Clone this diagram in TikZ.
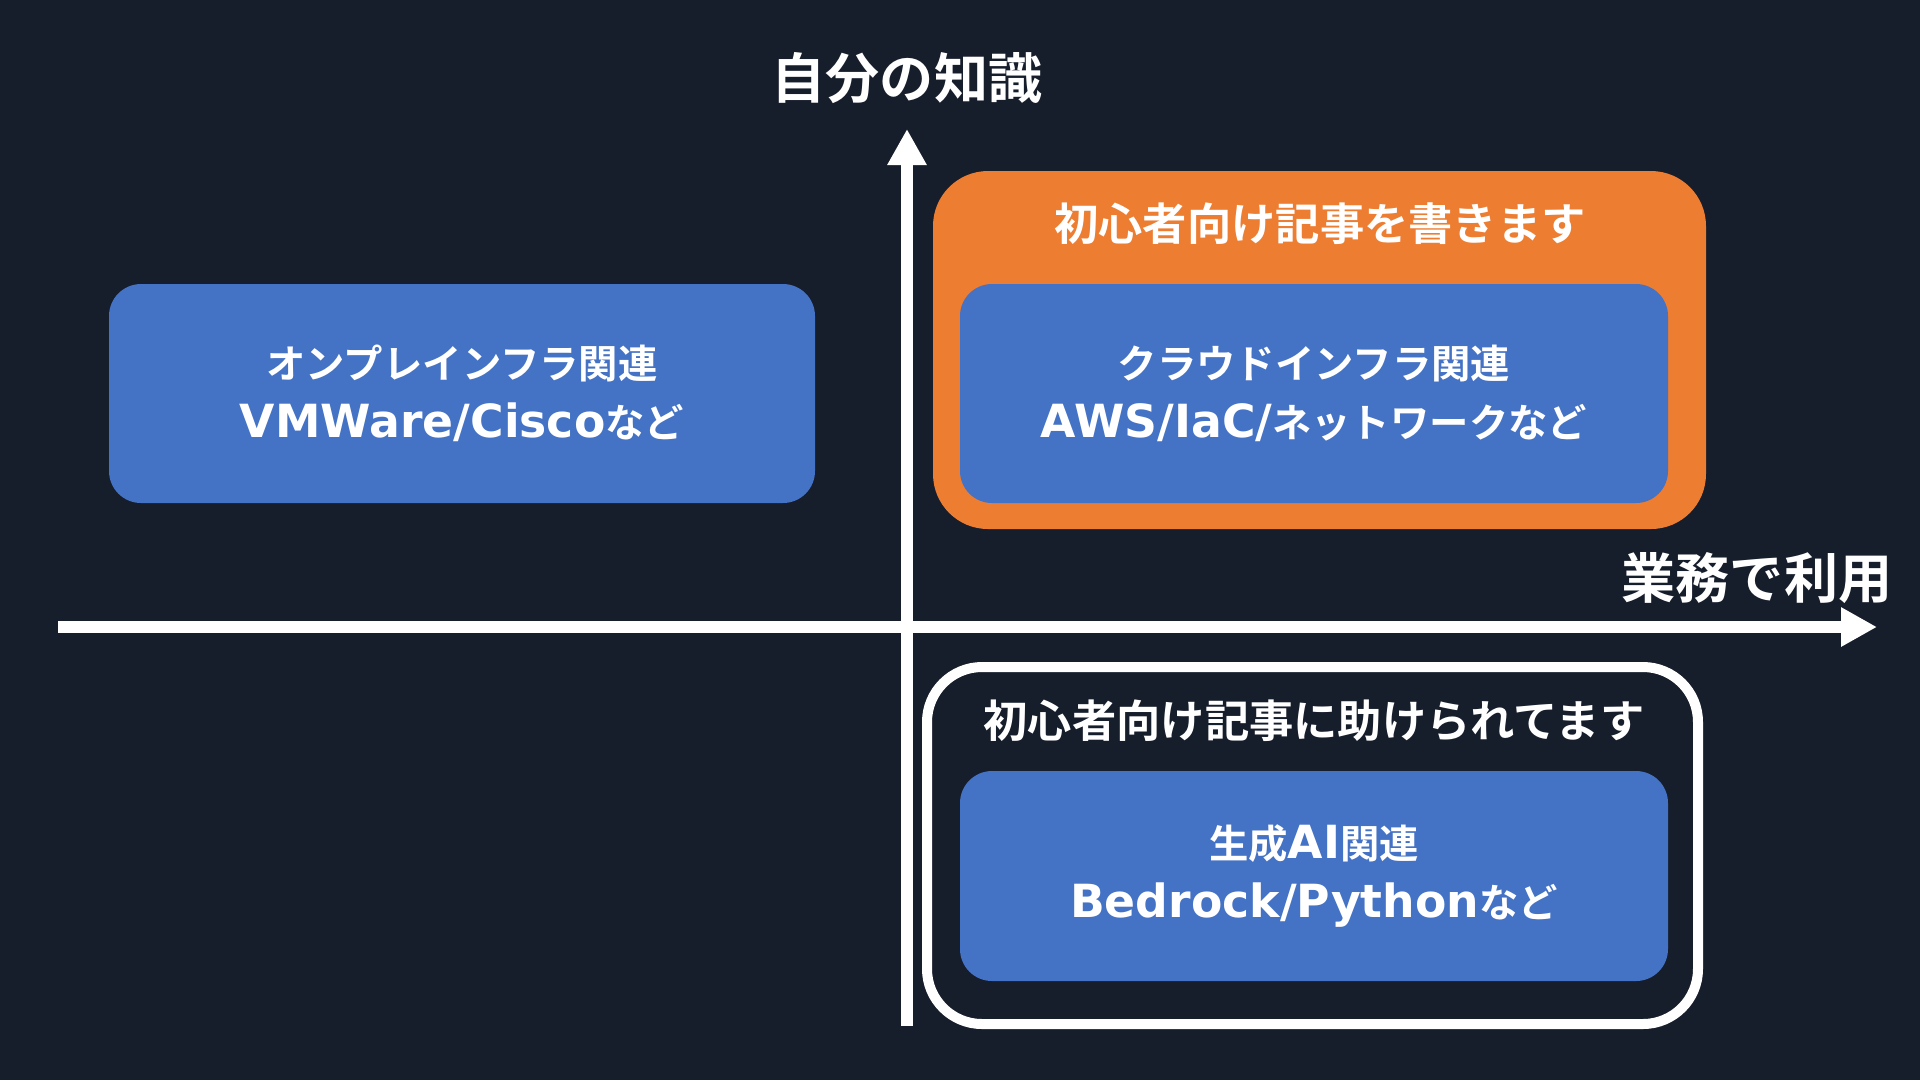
\documentclass[tikz,border=0pt]{standalone}
\usepackage{fontspec}
\setmainfont{Noto Sans CJK JP}[BoldFont={* Bold}]
\newfontfamily\latinfont{DejaVu Sans}[BoldFont={* Bold}]
\newcommand{\lat}[1]{{\latinfont\fontsize{13pt}{16.8pt}\selectfont\bfseries #1}}
\definecolor{bgnavy}{HTML}{161D2B}
\definecolor{boxblue}{HTML}{4472C4}
\definecolor{boxorange}{HTML}{ED7D31}
\usetikzlibrary{arrows.meta, positioning}

\begin{document}
\begin{tikzpicture}[x=0.1mm, y=-0.1mm, >={Triangle[length=3.6mm, width=3.7mm]},
    topicbox/.style={fill=boxblue, rounded corners=3.2mm, align=center, text=white,
      font=\fontsize{11.2pt}{16.8pt}\selectfont\bfseries, inner sep=0pt},
    groupbox/.style={rounded corners=5.5mm, inner sep=0pt},
    grouptitle/.style={text=white, font=\fontsize{12.6pt}{15pt}\selectfont\bfseries},
    axislabel/.style={text=white, font=\fontsize{15.4pt}{18pt}\selectfont\bfseries},
    axis/.style={draw=white, line width=1.2mm, ->}]
  \useasboundingbox[fill=bgnavy] (0,0) rectangle (1920,1080);

  % Axes
  \coordinate (xstart) at (58,627);
  \coordinate (xend) at (1877,627);
  \coordinate (ystart) at (907,1026);
  \coordinate (yend) at (907,129);
  \draw[axis] (xstart) -- (xend);
  \draw[axis] (ystart) -- (yend);
  \node[axislabel] (ylabel) at (907,78) {自分の知識};
  \node[axislabel] (xlabel) at (1757,578) {業務で利用};

  % Upper right: writing
  \node[groupbox, fill=boxorange, minimum width=77.3mm, minimum height=35.8mm] (writebox) at (1319.5,350) {};
  \node[grouptitle] (writetitle) at (1320,224) {初心者向け記事を書きます};
  \node[topicbox, minimum width=70.8mm, minimum height=21.9mm] (cloud) at (1314,393.5)
    {クラウドインフラ関連\\\lat{AWS/IaC/}ネットワークなど};

  % Upper left
  \node[topicbox, minimum width=70.6mm, minimum height=21.9mm] (onprem) at (462,393.5)
    {オンプレインフラ関連\\\lat{VMWare/Cisco}など};

  % Lower right: reading
  \node[groupbox, draw=white, line width=1mm, minimum width=77.1mm, minimum height=35.7mm] (readbox) at (1312.5,845.5) {};
  \node[grouptitle] (readtitle) at (1314,721) {初心者向け記事に助けられてます};
  \node[topicbox, minimum width=70.8mm, minimum height=21mm] (genai) at (1314,876)
    {生成\lat{AI}関連\\\lat{Bedrock/Python}など};
\end{tikzpicture}
\end{document}
